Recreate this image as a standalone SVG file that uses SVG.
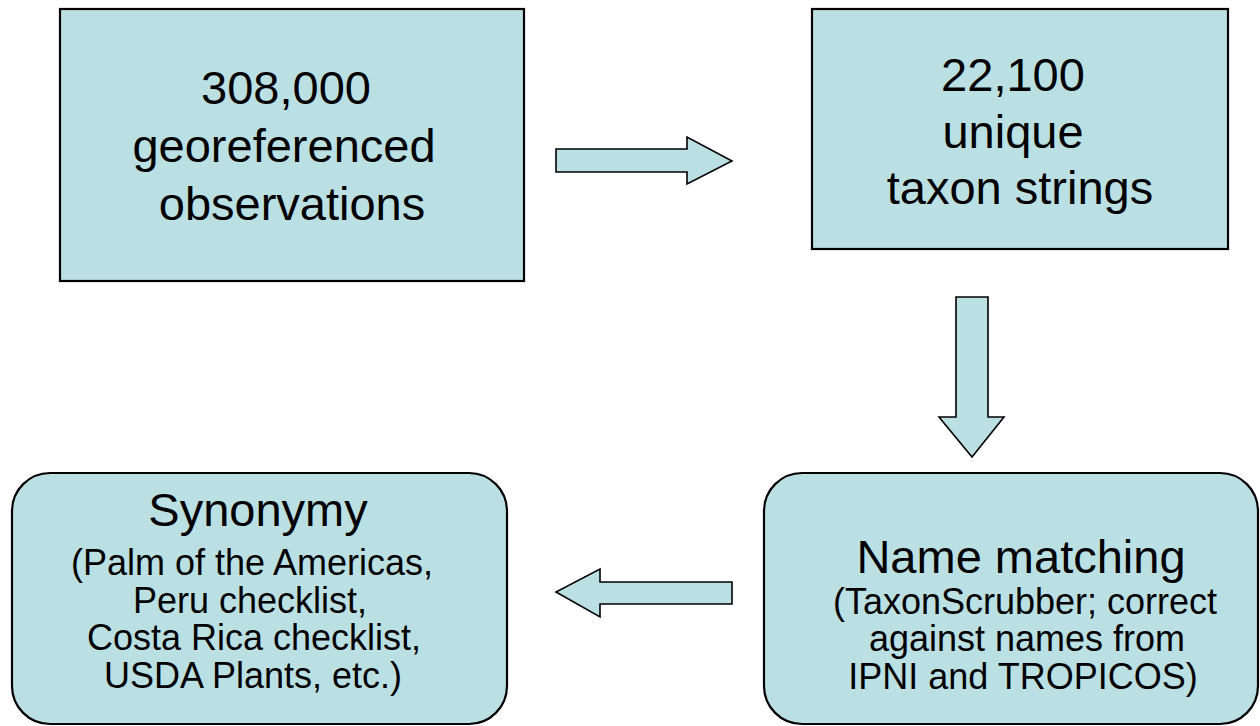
<svg xmlns="http://www.w3.org/2000/svg" width="1260" height="726" viewBox="0 0 1260 726">
<style>
.box{fill:#BBE0E3;stroke:#000;stroke-width:2.2}
.arr{fill:#BBE0E3;stroke:#000;stroke-width:1.6;stroke-linejoin:miter}
.t{font-family:"Liberation Sans",Arial,sans-serif;fill:#000;text-anchor:middle}
.big{font-size:47px}
.sm{font-size:36px}
</style>
<rect width="1260" height="726" fill="#fff"/>
<g id="node-observations">
<rect class="box" x="60" y="9" width="464" height="272"/>
<text class="t big" x="286" y="104">308,000</text>
<text class="t big" x="284" y="162">georeferenced</text>
<text class="t big" x="292" y="220">observations</text>
</g>
<g id="node-taxon-strings">
<rect class="box" x="812" y="9" width="416" height="240"/>
<text class="t big" x="1013" y="91">22,100</text>
<text class="t big" x="1013" y="148">unique</text>
<text class="t big" x="1020" y="204">taxon strings</text>
</g>
<g id="node-name-matching">
<rect class="box" x="764" y="473" width="494" height="251" rx="38" ry="38"/>
<text class="t big" x="1021" y="573">Name matching</text>
<text class="t sm" x="1025" y="614">(TaxonScrubber; correct</text>
<text class="t sm" x="1027" y="651">against names from</text>
<text class="t sm" x="1023" y="689">IPNI and TROPICOS)</text>
</g>
<g id="node-synonymy">
<rect class="box" x="12" y="473" width="495" height="251" rx="38" ry="38"/>
<text class="t big" x="258" y="526">Synonymy</text>
<text class="t sm" x="252" y="575">(Palm of the Americas,</text>
<text class="t sm" x="250" y="613">Peru checklist,</text>
<text class="t sm" x="254" y="650">Costa Rica checklist,</text>
<text class="t sm" x="253" y="688">USDA Plants, etc.)</text>
</g>
<g id="connectors">
<polygon class="arr" points="556,149 687,149 687,137 732,161 687,184 687,172 556,172"/>
<polygon class="arr" points="956,297 988,297 988,417 1004,417 972,457 939,417 956,417"/>
<polygon class="arr" points="732,582 600,582 600,569 556,592 600,617 600,604 732,604"/>
</g>
</svg>
